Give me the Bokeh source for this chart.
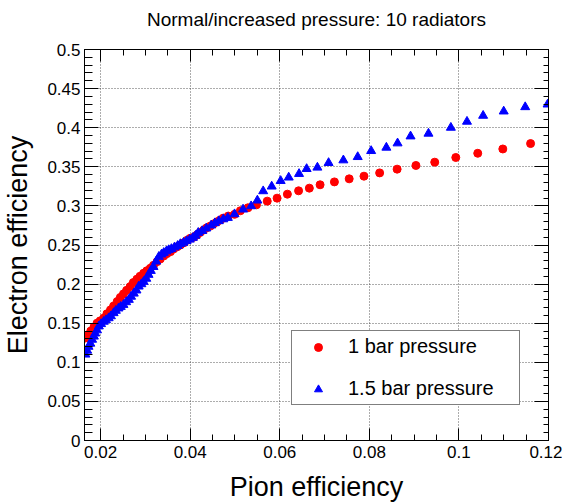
from bokeh.plotting import figure
from bokeh.models import FixedTicker, LinearAxis, Range1d, Legend, LegendItem
from bokeh.embed import file_html
from bokeh.resources import INLINE

# ---------------- data ----------------
title_text = "Normal/increased pressure: 10 radiators"
x_label = "Pion efficiency"
y_label = "Electron efficiency"

red_name = "1 bar pressure"
red_x = [0.0166, 0.0172, 0.0178, 0.0185, 0.0192, 0.0199, 0.0207, 0.0214, 0.0222, 0.0229,
         0.0237, 0.0244, 0.0251, 0.0258, 0.0266, 0.0273, 0.0281, 0.0288, 0.0296, 0.0303,
         0.0311, 0.0318, 0.0326, 0.0333, 0.0341, 0.0348, 0.0356, 0.0363, 0.0371, 0.0378,
         0.0386, 0.0393, 0.0400, 0.0408, 0.0415, 0.0422, 0.0430, 0.0437, 0.0445, 0.0452,
         0.0460, 0.0467, 0.0474, 0.0485, 0.0499, 0.0512, 0.0529, 0.0548, 0.0572, 0.0594,
         0.0617, 0.0642, 0.0666, 0.0690, 0.0722, 0.0755, 0.0788, 0.0823, 0.0862, 0.0904,
         0.0946, 0.0993, 0.1042, 0.1098, 0.1160]
red_y = [0.131, 0.135, 0.140, 0.145, 0.150, 0.153, 0.1565, 0.162, 0.167, 0.172,
         0.1777, 0.183, 0.1875, 0.192, 0.1968, 0.202, 0.2063, 0.210, 0.2139, 0.217,
         0.2203, 0.224, 0.2287, 0.232, 0.236, 0.239, 0.2415, 0.245, 0.2478, 0.250,
         0.2529, 0.256, 0.2585, 0.260, 0.2628, 0.266, 0.2691, 0.272, 0.2742, 0.277,
         0.2797, 0.282, 0.2844, 0.287, 0.2892, 0.2938, 0.2976, 0.3014, 0.3061, 0.3099,
         0.315, 0.3193, 0.3227, 0.327, 0.3307, 0.3346, 0.338, 0.3422, 0.347, 0.3517,
         0.3559, 0.3619, 0.3673, 0.3728, 0.3797]

blue_name = "1.5 bar pressure"
blue_x = [0.0166, 0.0170, 0.0173, 0.0177, 0.0181, 0.0185, 0.0188, 0.0192, 0.0196, 0.0201,
          0.0207, 0.0212, 0.0218, 0.0223, 0.0229, 0.0234, 0.0240, 0.0245, 0.0251, 0.0257,
          0.0263, 0.0268, 0.0274, 0.0280, 0.0285, 0.0291, 0.0296, 0.0302, 0.0307, 0.0312,
          0.0318, 0.0324, 0.0330, 0.0336, 0.0341, 0.0347, 0.0352, 0.0358, 0.0365, 0.0372,
          0.0378, 0.0385, 0.0392, 0.0399, 0.0406, 0.0412, 0.0418, 0.0427, 0.0436, 0.0447,
          0.0455, 0.0464, 0.0474, 0.0484, 0.0499, 0.0518, 0.0536, 0.0550, 0.0563, 0.0582,
          0.0602, 0.0620, 0.0643, 0.0660, 0.0684, 0.0709, 0.0742, 0.0774, 0.0804, 0.0838,
          0.0863, 0.0892, 0.0932, 0.0982, 0.1018, 0.1054, 0.1100, 0.1148, 0.1198]
blue_y = [0.110, 0.115, 0.120, 0.124, 0.129, 0.133, 0.137, 0.141, 0.146, 0.149,
          0.152, 0.154, 0.1565, 0.159, 0.163, 0.166, 0.169, 0.171, 0.1735, 0.177,
          0.180, 0.184, 0.188, 0.192, 0.197, 0.200, 0.203, 0.207, 0.212, 0.217,
          0.222, 0.229, 0.235, 0.238, 0.240, 0.242, 0.2436, 0.245, 0.2471, 0.249,
          0.2513, 0.253, 0.2551, 0.257, 0.2593, 0.262, 0.2657, 0.268, 0.2713, 0.2751,
          0.278, 0.2806, 0.283, 0.2848, 0.2895, 0.2955, 0.2997, 0.307, 0.3189, 0.3249,
          0.332, 0.3364, 0.341, 0.3473, 0.3491, 0.355, 0.3584, 0.3626, 0.3703, 0.3746,
          0.3801, 0.389, 0.3925, 0.4001, 0.4078, 0.4154, 0.4209, 0.4264, 0.4298]

x_ticks = [0.02, 0.04, 0.06, 0.08, 0.1, 0.12]
x_tick_labels = ["0.02", "0.04", "0.06", "0.08", "0.1", "0.12"]
y_ticks = [0.0, 0.05, 0.1, 0.15, 0.2, 0.25, 0.3, 0.35, 0.4, 0.45, 0.5]
y_tick_labels = ["0", "0.05", "0.1", "0.15", "0.2", "0.25", "0.3", "0.35", "0.4", "0.45", "0.5"]

x_min, x_max = 0.0164, 0.12
y_min, y_max = 0.0, 0.5

# minor tick positions (derived from the major tick spacing)
x_minor = [round(0.015 + 0.005 * i, 4) for i in range(0, 22)]
x_minor = [v for v in x_minor if x_min <= v <= x_max]
y_minor = [round(0.01 * i, 3) for i in range(0, 51)]

FONT = "Liberation Sans"

p = figure(width=562, height=504, x_range=Range1d(x_min, x_max), y_range=Range1d(y_min, y_max),
           output_backend="svg", toolbar_location=None,
           min_border_left=84, min_border_right=14, min_border_top=49, min_border_bottom=63,
           x_axis_label=x_label, y_axis_label=y_label)
p.background_fill_color = "white"
p.border_fill_color = "white"
p.outline_line_color = "black"
p.outline_line_width = 1

# title
p.title.text = title_text
p.title.align = "center"
p.title.text_font = FONT
p.title.text_font_size = "19px"
p.title.text_font_style = "normal"
p.title.text_color = "black"
p.title.standoff = 13

def style_axis(ax, ticks, minor, labels, tin, minor_in, show_labels=True):
    ax.ticker = FixedTicker(ticks=ticks, minor_ticks=minor)
    ax.major_tick_in = tin
    ax.major_tick_out = 0
    ax.minor_tick_in = minor_in
    ax.minor_tick_out = 0
    ax.axis_line_color = "black"
    ax.major_tick_line_color = "black"
    ax.minor_tick_line_color = "black"
    if show_labels:
        ax.major_label_overrides = {t: l for t, l in zip(ticks, labels)}
        ax.major_label_text_font = FONT
        ax.major_label_text_font_size = "17px"
        ax.major_label_text_color = "black"
        ax.axis_label_text_font = FONT
        ax.axis_label_text_font_size = "27px"
        ax.axis_label_text_font_style = "normal"
        ax.axis_label_text_color = "black"
    else:
        # mirrored axis: ticks only, labels not drawn
        ax.major_label_text_font_size = "1px"
        ax.major_label_text_color = None
        ax.major_label_standoff = 0

xa = p.xaxis[0]
style_axis(xa, x_ticks, x_minor, x_tick_labels, 12, 6)
xa.major_label_standoff = 5
xa.axis_label_standoff = 11

ya = p.yaxis[0]
style_axis(ya, y_ticks, y_minor, y_tick_labels, 14, 8)
ya.major_label_standoff = 4
ya.axis_label_standoff = 11

top = LinearAxis()
style_axis(top, x_ticks, x_minor, x_tick_labels, 12, 6, show_labels=False)
p.add_layout(top, "above")

# practically invisible spacer between the frame and the title
spacer = LinearAxis(ticker=FixedTicker(ticks=x_ticks, minor_ticks=[]),
                    major_tick_in=0, major_tick_out=13, minor_tick_in=0, minor_tick_out=0,
                    axis_line_color=None, major_tick_line_color="white",
                    major_tick_line_alpha=0.01,
                    minor_tick_line_color=None, major_label_text_color=None,
                    major_label_text_font_size="1px", major_label_standoff=0)
p.add_layout(spacer, "above")

right = LinearAxis()
style_axis(right, y_ticks, y_minor, y_tick_labels, 14, 5, show_labels=False)
p.add_layout(right, "right")

# grid
for g in (p.xgrid[0], p.ygrid[0]):
    g.grid_line_color = "#333333"
    g.grid_line_dash = "1 2"
    g.grid_line_width = 1
    g.grid_line_alpha = 0.8
p.xgrid[0].ticker = FixedTicker(ticks=x_ticks)
p.ygrid[0].ticker = FixedTicker(ticks=y_ticks)

r_red = p.scatter(red_x, red_y, marker="circle", size=8, fill_color="#ff0000", line_color="#ff0000")
r_blue = p.scatter(blue_x, blue_y, marker="triangle", size=9, fill_color="#0000ff", line_color="#0000ff")

legend = Legend(items=[LegendItem(label=red_name, renderers=[r_red]),
                       LegendItem(label=blue_name, renderers=[r_blue])],
                location=(207, 35))
legend.label_text_font = FONT
legend.label_text_font_size = "20px"
legend.label_text_color = "black"
legend.padding = 4
legend.spacing = 19
legend.glyph_width = 44
legend.glyph_height = 20
legend.label_height = 20
legend.label_standoff = 8
legend.label_width = 167
legend.margin = 0
legend.border_line_color = "black"
legend.border_line_width = 1
legend.background_fill_color = "white"
legend.background_fill_alpha = 1
p.add_layout(legend, "center")

open("out.html", "w").write(file_html(p, INLINE))
